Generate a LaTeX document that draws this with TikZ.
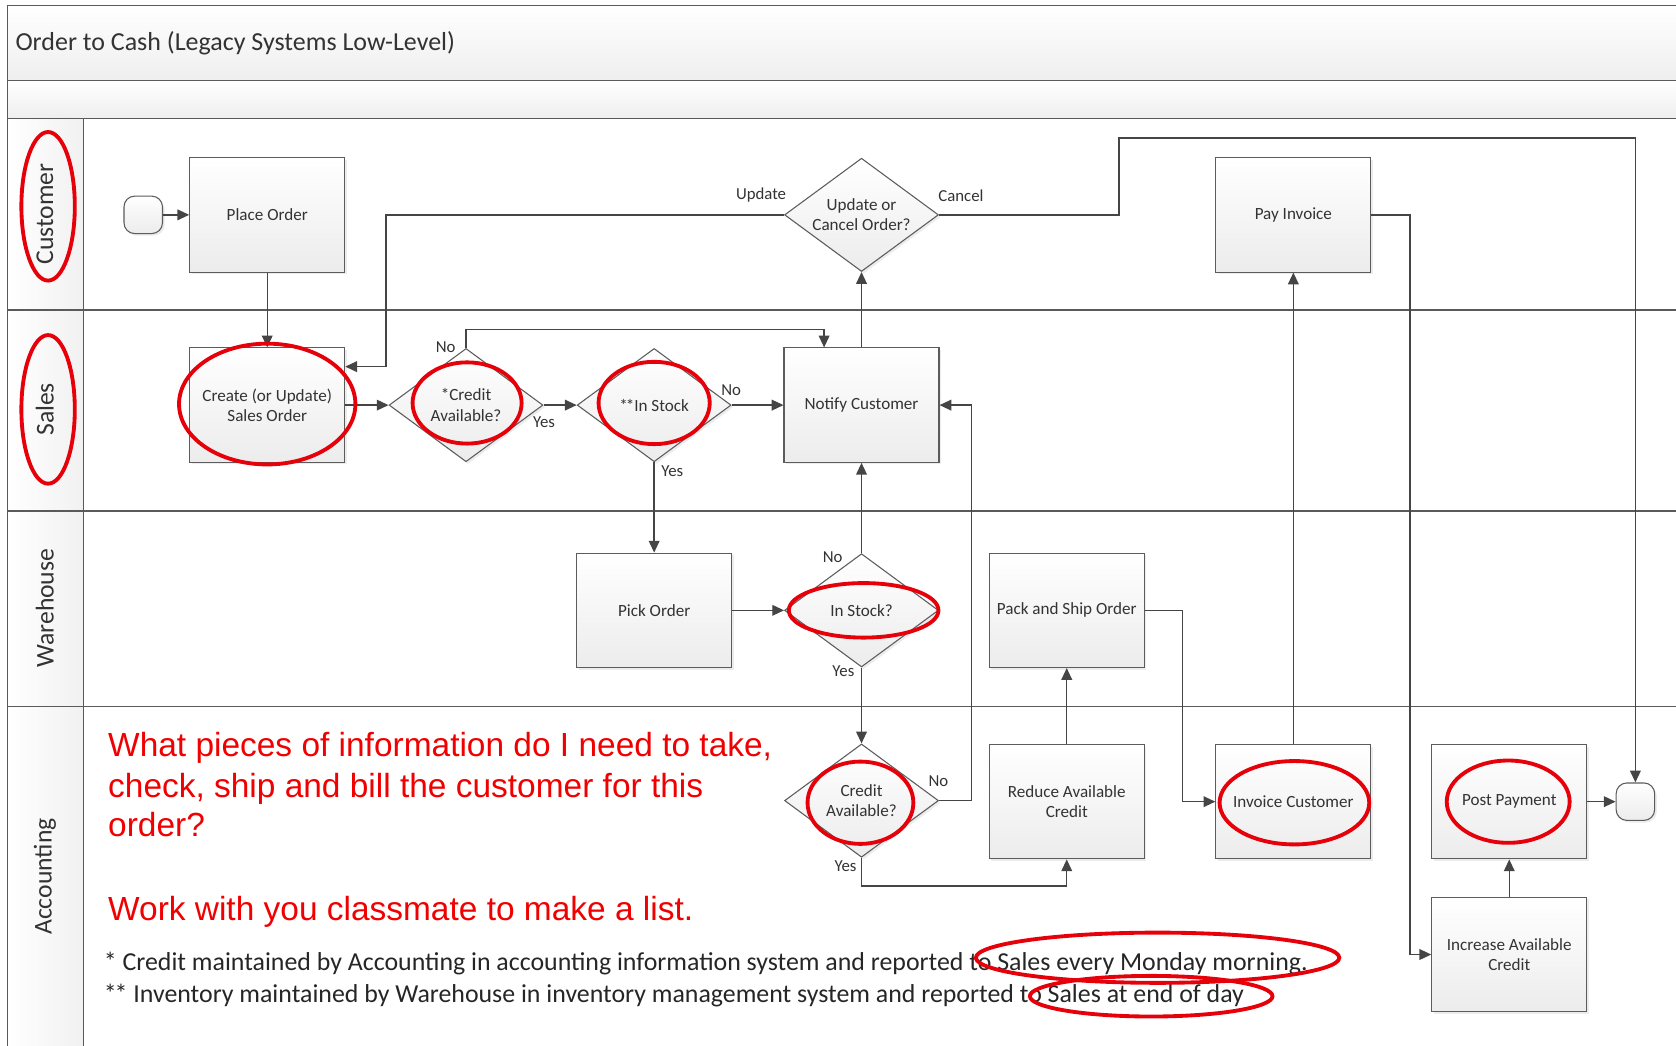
\documentclass[tikz,border=0pt]{standalone}
\usepackage{fontspec}
\setmainfont{Carlito}
\newfontfamily\redfont{Liberation Sans}
\usetikzlibrary{shapes.geometric,arrows.meta,shadows}

\definecolor{frameline}{HTML}{5A5A5A}
\definecolor{flowline}{HTML}{454545}
\definecolor{boxline}{HTML}{5C5C5C}
\definecolor{boxbot}{HTML}{ECECEC}
\definecolor{inktext}{HTML}{333333}
\definecolor{ringred}{HTML}{E5000A}
\definecolor{notered}{HTML}{F00000}

% a tight pair of asterisks
\newcommand\dblstar{*\kern-2pt*}

\begin{document}
\begin{tikzpicture}[x=1pt,y=-1pt,
  box/.style={draw=boxline, line width=1pt, top color=white, bottom color=boxbot,
    minimum width=145pt, minimum height=107pt, inner sep=2pt, align=center,
    text=inktext, font=\fontsize{16}{19}\selectfont,
    drop shadow={opacity=0.15, shadow xshift=2pt, shadow yshift=-2pt}},
  decision/.style={box, shape=diamond, aspect=1.36, inner sep=0pt,
    minimum width=144pt, minimum height=106pt},
  terminal/.style={box, rounded corners=10pt, minimum width=36pt, minimum height=35pt},
  flow/.style={draw=flowline, line width=1.3pt, -{Triangle[length=11pt,width=10pt]}},
  branch/.style={text=inktext, font=\fontsize{15.7}{18}\selectfont, inner sep=0pt},
  lanelabel/.style={rotate=90, text=inktext, font=\fontsize{24}{28}\selectfont},
  ring/.style={draw=ringred, line width=3.6pt, shape=ellipse, inner sep=0pt},
  lane/.style={draw=frameline, line width=1.2pt},
  note/.style={anchor=base west, inner sep=0pt, text=notered, font=\redfont\fontsize{31.3}{37}\selectfont},
  footnote/.style={anchor=base west, inner sep=0pt, text=black!85, font=\fontsize{24.2}{28}\selectfont}
]
\useasboundingbox (0,0) rectangle (1568,978);
\clip (0,0) rectangle (1568,978);

% pool header bands and lane label column
\path[top color=white, bottom color=gray!13] (7,5) rectangle (1600,75);
\path[top color=white, bottom color=gray!13] (7,75) rectangle (1600,111);
\path[left color=white, right color=gray!11] (7,111) rectangle (78,1000);
\draw[lane] (7,1000) -- (7,5) -- (1600,5);
\draw[lane] (7,75) -- (1600,75);
\draw[lane] (7,111) -- (1600,111);
\draw[lane] (7,290) -- (1600,290);
\draw[lane] (7,478) -- (1600,478);
\draw[lane] (7,661) -- (1600,661);
\draw[lane] (78,111) -- (78,1000);

\node[anchor=west, text=inktext, font=\fontsize{24.3}{28}\selectfont] (title) at (11,40)
  {Order to Cash (Legacy Systems Low-Level)};

% lane names
\node[lanelabel] (lnCustomer) at (42,200) {Customer};
\node[lanelabel] (lnSales) at (42,383) {Sales};
\node[lanelabel] (lnWarehouse) at (42,569) {Warehouse};
\node[lanelabel] (lnAccounting) at (42,820) {Accounting};

% Customer lane
\node[terminal] (start) at (134,201) {};
\node[box] (place) at (250,201) {Place Order};
\node[decision] (upcan) at (806,201) {Update or\\Cancel Order?};
\node[box] (pay) at (1210,201) {Pay Invoice};

% Sales lane
\node[box] (create) at (250,379) {Create (or Update)\\Sales Order};
\node[decision] (credA) at (436,379) {*Credit\\Available?};
\node[decision] (stockA) at (612,379) {\dblstar In Stock};
\node[box] (notify) at (806,379) {Notify Customer};

% Warehouse lane
\node[box] (pick) at (612,571) {Pick Order};
\node[decision] (stockB) at (806,571) {In Stock?};
\node[box] (pack) at (998,571) {Pack and Ship Order};

% Accounting lane
\node[decision] (credB) at (806,749) {Credit\\Available?};
\node[box] (reduce) at (998,750) {Reduce Available\\Credit};
\node[box] (invoice) at (1210,750) {Invoice Customer};
\node[box] (post) at (1412,750) {Post Payment};
\node[box] (increase) at (1412,893) {Increase Available\\Credit};
\node[terminal] (finish) at (1530,750) {};

% bend points of the routed connectors
\coordinate (updBend) at (361,343);
\coordinate (canBend) at (1047,129);
\coordinate (payBend) at (1319,201);
\coordinate (noCredBend) at (771,308);
\coordinate (noCredBBend) at (909,379);
\coordinate (yesCredBBend) at (998,829);
\coordinate (shipBend) at (1106,750);

% connectors
\draw[flow] (start) -- (place);
\draw[flow] (place) -- (create);
\draw[flow] (upcan.west) -| (updBend) -- (create.east |- updBend);
\draw[flow] (upcan.east) -| (canBend) -| (finish);
\draw[flow] (pay.east) -- (payBend) |- (increase);
\draw[flow] (create) -- (credA);
\draw[flow] (credA.north) |- (noCredBend) -- (notify.north -| noCredBend);
\draw[flow] (credA.east) -- (stockA.west);
\draw[flow] (stockA.east) -- (notify.west);
\draw[flow] (stockA.south) -- (pick.north);
\draw[flow] (notify.north) -- (upcan.south);
\draw[flow] (pick.east) -- (stockB.west);
\draw[flow] (stockB.north) -- (notify.south);
\draw[flow] (stockB.south) -- (credB.north);
\draw[flow] (credB.east) -| (noCredBBend) -- (notify.east);
\draw[flow] (credB.south) |- (yesCredBBend) -- (reduce.south);
\draw[flow] (reduce) -- (pack);
\draw[flow] (pack.east) -| (shipBend) -- (invoice.west);
\draw[flow] (invoice) -- (pay);
\draw[flow] (increase) -- (post);
\draw[flow] (post) -- (finish);

% branch labels
\node[branch] (lbUpdate) at (712,182) {Update};
\node[branch] (lbCancel) at (899,183) {Cancel};
\node[branch] (lbNoA) at (417,325) {No};
\node[branch] (lbYesA) at (509,395) {Yes};
\node[branch] (lbNoB) at (684,365) {No};
\node[branch] (lbYesB) at (629,441) {Yes};
\node[branch] (lbNoC) at (779,521) {No};
\node[branch] (lbYesC) at (789,628) {Yes};
\node[branch] (lbNoD) at (878,731) {No};
\node[branch] (lbYesD) at (791,810) {Yes};

% question in red
\node[note] (q1) at (101,708) {What pieces of information do I need to take,};
\node[note] (q2) at (101,746) {check, ship and bill the customer for this};
\node[note] (q3) at (101,783) {order?};
\node[note] (q4) at (101,861) {Work with you classmate to make a list.};

% footnotes
\node[footnote] (fn1) at (97,908) {* Credit maintained by Accounting in accounting information system and reported to Sales every Monday morning.};
\node[footnote] (fn2) at (97,938) {\dblstar{} Inventory maintained by Warehouse in inventory management system and reported to Sales at end of day};

% red rings
\node[ring, minimum width=50pt, minimum height=139pt] (rCustomer) at (45,193) {};
\node[ring, minimum width=50pt, minimum height=139pt] (rSales) at (45,383) {};
\node[ring, minimum width=165pt, minimum height=113pt] (rCreate) at (250,378) {};
\node[ring, minimum width=102pt, minimum height=76pt] (rCredA) at (437,377) {};
\node[ring, minimum width=104pt, minimum height=77pt] (rStockA) at (612,377) {};
\node[ring, minimum width=140pt, minimum height=51pt] (rStockB) at (808,571) {};
\node[ring, minimum width=99pt, minimum height=77pt] (rCredB) at (805,751) {};
\node[ring, minimum width=140pt, minimum height=78pt] (rInvoice) at (1211,751) {};
\node[ring, minimum width=115pt, minimum height=77pt] (rPost) at (1411,750) {};
\node[ring, minimum width=340pt, minimum height=47pt] (rMonday) at (1083,896) {};
\node[ring, minimum width=227pt, minimum height=38pt] (rEndDay) at (1077,932) {};
\end{tikzpicture}
\end{document}
